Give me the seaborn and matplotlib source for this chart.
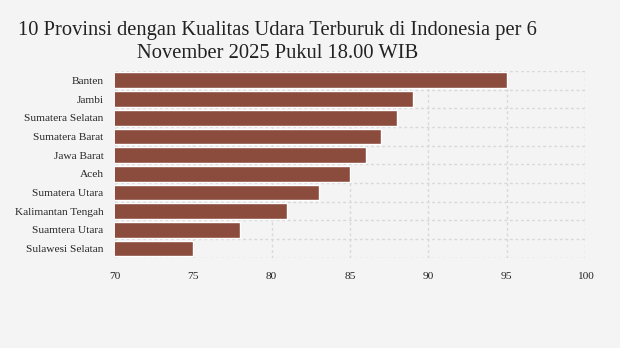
import matplotlib
matplotlib.use("Agg")
import matplotlib.pyplot as plt
import pandas as pd
import seaborn as sns
import numpy as np

provinsi = ["Banten", "Jambi", "Sumatera Selatan", "Sumatera Barat", "Jawa Barat",
            "Aceh", "Sumatera Utara", "Kalimantan Tengah", "Suamtera Utara",
            "Sulawesi Selatan"]
nilai = [95, 89, 88, 87, 86, 85, 83, 81, 78, 75]
xticks = [70, 75, 80, 85, 90, 95, 100]

df = pd.DataFrame({"provinsi": provinsi, "nilai": nilai})

sns.set_style("white")
plt.rcParams["font.family"] = ["Liberation Serif", "DejaVu Serif"]

bg = "#f4f4f4"
fig = plt.figure(figsize=(6.2, 3.48), dpi=100, facecolor=bg)
ax = fig.add_axes([0.185, 0.259, 0.759, 0.537], facecolor=bg)

sns.barplot(data=df, x="nilai", y="provinsi", color="#8b4c3e", width=0.84,
            saturation=1, ax=ax, zorder=3)

ax.set_xlim(70, 100)
ax.set_ylim(len(provinsi) - 0.5, -0.5)
ax.set_xticks(xticks)
ax.set_xticklabels([str(t) for t in xticks], fontsize=8.2)
ax.tick_params(axis="y", labelsize=8.2, length=4, color="#dddddd", pad=4)
ax.tick_params(axis="x", length=0, pad=10)
ax.set_yticks(np.arange(len(provinsi) + 1) - 0.5, minor=True)
ax.tick_params(axis="y", which="minor", length=0)

ax.grid(axis="x", which="major", color="#d8d8d8", linestyle=(0, (2, 2)), linewidth=1, zorder=0)
ax.grid(axis="y", which="minor", color="#d8d8d8", linestyle=(0, (2, 2)), linewidth=1, zorder=0)
for s in ax.spines.values():
    s.set_visible(False)
ax.set_xlabel("")
ax.set_ylabel("")

fig.text(0.447, 0.94, "10 Provinsi dengan Kualitas Udara Terburuk di Indonesia per 6\nNovember 2025 Pukul 18.00 WIB",
         ha="center", va="top", fontsize=14.8, color="#222222", linespacing=1.32)

fig.savefig("out.png", dpi=100, facecolor=bg)
